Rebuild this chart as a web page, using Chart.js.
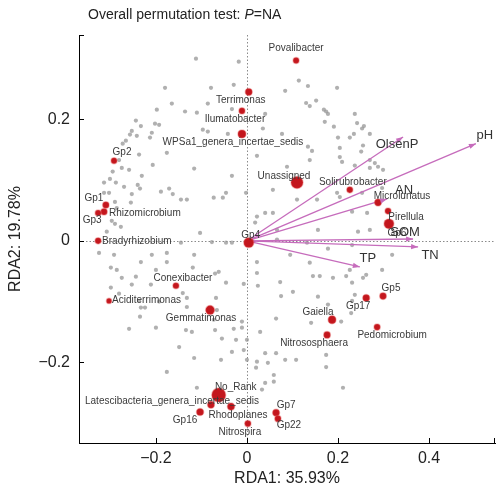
<!DOCTYPE html>
<html>
<head>
<meta charset="utf-8">
<script src="https://cdn.jsdelivr.net/npm/chart.js@4.4.1/dist/chart.umd.min.js"></script>
<style>
  html, body { margin: 0; padding: 0; background: #fff; }
  #wrap { width: 504px; height: 488px; }
</style>
</head>
<body>
<div id="wrap"><canvas id="rda"></canvas></div>
<script>
// OTU site scores on RDA1 / RDA2
const otuScores = [
    [-0.112, 0.300], [-0.018, 0.295], [-0.180, 0.252], [-0.079, 0.252], [-0.029, 0.257],
    [-0.165, 0.226], [-0.086, 0.226], [-0.198, 0.216], [-0.136, 0.213], [-0.110, 0.211],
    [-0.033, 0.217], [-0.244, 0.198], [-0.233, 0.189], [-0.202, 0.193], [-0.193, 0.191],
    [-0.253, 0.181], [-0.257, 0.175], [-0.242, 0.173], [-0.209, 0.178], [-0.213, 0.170],
    [-0.097, 0.183], [-0.086, 0.180], [-0.042, 0.176], [-0.266, 0.165], [-0.273, 0.160],
    [-0.176, 0.145], [-0.237, 0.142], [-0.275, 0.120], [-0.259, 0.117], [-0.207, 0.125],
    [-0.231, 0.107], [-0.116, 0.119], [-0.033, 0.107], [-0.314, 0.096], [-0.301, 0.102],
    [-0.288, 0.096], [-0.270, 0.089], [-0.240, 0.092], [-0.235, 0.086], [-0.314, 0.079],
    [-0.303, 0.079], [-0.253, 0.077], [-0.189, 0.081], [-0.171, 0.086], [-0.163, 0.077],
    [-0.145, 0.068], [-0.132, 0.068], [-0.073, 0.071], [-0.046, 0.079], [-0.053, 0.071],
    [-0.290, 0.064], [-0.255, 0.063], [-0.286, 0.054], [-0.297, 0.033], [-0.290, 0.028],
    [-0.277, 0.023], [-0.308, 0.015], [-0.103, 0.013], [-0.002, 0.079], [-0.281, 0.133],
    [-0.295, 0.114],
    [-0.145, -0.003], [-0.046, -0.003], [-0.077, -0.002], [-0.033, -0.003], [-0.325, -0.020],
    [-0.292, -0.023], [-0.209, -0.023], [-0.176, -0.020], [-0.116, -0.023], [-0.176, -0.035],
    [-0.233, -0.035], [-0.299, -0.044], [-0.286, -0.048], [-0.062, -0.051], [-0.275, -0.061],
    [-0.200, -0.048], [-0.253, -0.072], [-0.244, -0.059], [-0.119, -0.044], [-0.070, -0.054],
    [-0.007, -0.071], [-0.211, -0.072], [-0.299, -0.077], [-0.281, -0.087], [-0.046, -0.069],
    [-0.141, -0.086], [-0.237, -0.099], [-0.193, -0.100], [-0.132, -0.094], [-0.068, -0.094],
    [-0.233, -0.110], [-0.224, -0.110], [-0.132, -0.109], [-0.066, -0.114], [-0.235, -0.125],
    [-0.259, -0.145], [-0.200, -0.143], [-0.134, -0.147], [-0.121, -0.150], [-0.070, -0.147],
    [-0.029, -0.145], [-0.055, -0.161], [-0.024, -0.163], [-0.073, -0.130], [-0.011, -0.133],
    [-0.011, -0.143], [-0.149, -0.175], [-0.007, -0.180], [-0.033, -0.183], [-0.116, -0.193],
    [-0.057, -0.196], [-0.176, -0.216], [-0.110, -0.242], [0.000, -0.196],
    [0.022, 0.140], [0.114, 0.264], [0.134, 0.255], [0.084, 0.247], [0.198, 0.252],
    [0.130, 0.227], [0.138, 0.222], [0.152, 0.231], [0.169, 0.216], [0.174, 0.213],
    [0.178, 0.209], [0.237, 0.209], [0.171, 0.196], [0.191, 0.188], [0.242, 0.194],
    [0.257, 0.189], [0.253, 0.185], [0.270, 0.176], [0.235, 0.176], [0.200, 0.170],
    [0.226, 0.170], [0.134, 0.155], [0.204, 0.153], [0.077, 0.176], [0.040, 0.209],
    [0.035, 0.185], [0.143, 0.148], [0.270, 0.133], [0.281, 0.128], [0.288, 0.122],
    [0.270, 0.120], [0.204, 0.138], [0.255, 0.157], [0.251, 0.147], [0.209, 0.130],
    [0.237, 0.124], [0.299, 0.117], [0.088, 0.122], [0.138, 0.133], [0.057, 0.084],
    [0.110, 0.068], [0.154, 0.068], [0.198, 0.079], [0.253, 0.079], [0.297, 0.087],
    [0.022, 0.040], [0.040, 0.046], [0.018, 0.030], [0.156, 0.018], [0.244, 0.015],
    [0.270, 0.018], [0.204, 0.072], [0.231, 0.048], [0.264, 0.046], [0.057, 0.046],
    [0.066, 0.018],
    [0.066, 0.002], [0.132, -0.003], [0.231, -0.007], [0.178, -0.013], [0.095, -0.023],
    [0.022, -0.035], [0.138, -0.036], [0.226, -0.048], [0.297, -0.048], [0.319, -0.023],
    [0.022, -0.053], [0.145, -0.058], [0.160, -0.058], [0.189, -0.061], [0.255, -0.061],
    [0.024, -0.074], [0.073, -0.068], [0.101, -0.084], [0.156, -0.092], [0.231, -0.099],
    [0.178, -0.105], [0.075, -0.091], [0.218, -0.058], [0.231, -0.069], [0.262, -0.056],
    [0.237, -0.089], [0.141, -0.135], [0.207, -0.133], [0.174, -0.188], [0.174, -0.208],
    [0.211, -0.242], [0.064, -0.128], [0.229, -0.119], [0.029, -0.150], [0.040, -0.185],
    [0.022, -0.199], [0.046, -0.201], [0.084, -0.196], [0.059, -0.221], [0.059, -0.232],
    [0.033, -0.245], [0.000, -0.163], [0.040, -0.234], [0.020, -0.209], [0.064, -0.185],
    [0.108, -0.196],
];

// Named genera (red), with relative abundance driving dot size
const genusNames = [
    'Povalibacter', 'Terrimonas', 'Ilumatobacter', 'WPSa1_genera_incertae_sedis', 'Gp2',
    'Gp1', 'Rhizomicrobium', 'Gp3', 'Bradyrhizobium', 'Gp4',
    'Conexibacter', 'Aciditerrimonas', 'Gemmatimonas', 'Unassigned', 'Solirubrobacter',
    'Microlunatus', 'Pirellula', 'Gp6', 'Gp5', 'Gp17',
    'Gaiella', 'Pedomicrobium', 'Nitrososphaera', 'No_Rank', 'Latescibacteria_genera_incertae_sedis',
    'Rhodoplanes', 'Gp16', 'Nitrospira', 'Gp7', 'Gp22',
];
const genusX = [
    0.108, 0.004, -0.011, -0.011, -0.292,
    -0.310, -0.314, -0.327, -0.327, 0.004,
    -0.156, -0.303, -0.081, 0.110, 0.226,
    0.288, 0.310, 0.312, 0.299, 0.262,
    0.187, 0.286, 0.176, -0.062, -0.079,
    -0.035, -0.103, 0.002, 0.064, 0.068,
];
const genusY = [
    0.297, 0.245, 0.214, 0.176, 0.132,
    0.059, 0.048, 0.046, 0.000, -0.003,
    -0.074, -0.099, -0.114, 0.096, 0.084,
    0.063, 0.049, 0.028, -0.091, -0.094,
    -0.130, -0.142, -0.155, -0.254, -0.270,
    -0.273, -0.282, -0.301, -0.283, -0.293,
];
const genusAbund = [
    0.45, 0.8, 0.5, 1.3, 0.45,
    0.6, 0.6, 0.45, 0.5, 2.5,
    0.5, 0.25, 1.8, 4.2, 0.5,
    0.8, 0.5, 2.4, 0.7, 0.8,
    1.2, 0.55, 0.7, 6.2, 0.8,
    0.9, 0.9, 0.55, 0.8, 0.55,
];

// Soil property vectors
const envNames = ['pH', 'OlsenP', 'AN', 'SOM', 'TN', 'TP'];
const envX = [0.503, 0.343, 0.308, 0.365, 0.376, 0.248];
const envY = [0.160, 0.171, 0.069, 0.003, -0.010, -0.043];

const xTicks = [-0.2, 0, 0.2, 0.4];
const yTicks = [-0.2, 0, 0.2];

// where each text sits relative to its mark, in px: [dx, dy, align]
const genusLabelPos = {
    'Povalibacter': [0, -12], 'Terrimonas': [-8, 8], 'Ilumatobacter': [-7, 8],
    'WPSa1_genera_incertae_sedis': [-9, 8], 'Gp2': [8, -8], 'Gp1': [-12, -7],
    'Rhizomicrobium': [5, 2, 'left'], 'Gp3': [-6, 7], 'Bradyrhizobium': [4, 0, 'left'],
    'Gp4': [2, -7], 'Conexibacter': [7, -8], 'Aciditerrimonas': [3, -1, 'left'],
    'Gemmatimonas': [-9, 8], 'Unassigned': [-13, -6], 'Solirubrobacter': [3, -8],
    'Microlunatus': [24, -6], 'Pirellula': [18, 6], 'Gp6': [8, 9], 'Gp5': [8, -8],
    'Gp17': [-8, 8], 'Gaiella': [-14, -8], 'Pedomicrobium': [15, 8],
    'Nitrososphaera': [-13, 8], 'No_Rank': [17, -8],
    'Latescibacteria_genera_incertae_sedis': [-39, -4], 'Rhodoplanes': [7, 9],
    'Gp16': [-15, 8], 'Nitrospira': [-8, 9], 'Gp7': [10, -7], 'Gp22': [11, 7],
};
const envLabelPos = {
    'pH': [9, -8], 'OlsenP': [-6, 7], 'AN': [17, -9], 'SOM': [-8, -7], 'TN': [12, 9], 'TP': [8, -9],
};

const FONT = '"Liberation Sans", Arial, Helvetica, sans-serif';
const arrowColor = '#c66cbc';
const minus = v => (v < 0 ? '\u2212' : '') + Math.abs(v);

const rdaDecor = {
    id: 'rdaDecor',
    beforeDatasetsDraw(chart) {
        const { ctx, chartArea: a, scales: { x, y } } = chart;
        const x0 = Math.round(x.getPixelForValue(0)) + 0.5;
        const y0 = Math.round(y.getPixelForValue(0)) + 0.5;
        ctx.save();
        ctx.strokeStyle = '#8a8a8a';
        ctx.lineWidth = 1;
        ctx.setLineDash([1.5, 2]);
        ctx.beginPath();
        ctx.moveTo(x0, a.top); ctx.lineTo(x0, a.bottom);
        ctx.moveTo(a.left, y0); ctx.lineTo(a.right, y0);
        ctx.stroke();
        ctx.restore();
    },
    afterDatasetsDraw(chart) {
        const { ctx } = chart;
        ctx.save();
        chart.data.datasets.forEach((ds, i) => {
            const meta = chart.getDatasetMeta(i);
            if (ds.kind === 'env') {
                const p0 = meta.data[0], p1 = meta.data[1];
                const ang = Math.atan2(p1.y - p0.y, p1.x - p0.x);
                ctx.fillStyle = arrowColor;
                ctx.beginPath();
                ctx.moveTo(p1.x, p1.y);
                ctx.lineTo(p1.x - 7 * Math.cos(ang) + 2.6 * Math.sin(ang), p1.y - 7 * Math.sin(ang) - 2.6 * Math.cos(ang));
                ctx.lineTo(p1.x - 7 * Math.cos(ang) - 2.6 * Math.sin(ang), p1.y - 7 * Math.sin(ang) + 2.6 * Math.cos(ang));
                ctx.closePath();
                ctx.fill();
                const off = envLabelPos[ds.label] || [0, 0];
                ctx.font = '13px ' + FONT;
                ctx.fillStyle = '#333';
                ctx.textAlign = 'center';
                ctx.textBaseline = 'middle';
                ctx.fillText(ds.label, p1.x + off[0], p1.y + off[1]);
            } else if (ds.kind === 'genus') {
                ctx.font = '10px ' + FONT;
                ctx.fillStyle = '#3a3a3a';
                ctx.textBaseline = 'middle';
                meta.data.forEach((pt, j) => {
                    const name = genusNames[j];
                    const off = genusLabelPos[name] || [0, -8];
                    ctx.textAlign = off[2] || 'center';
                    ctx.fillText(name, pt.x + off[0], pt.y + off[1]);
                });
            }
        });
        ctx.restore();
    },
    afterDraw(chart) {
        const { ctx, chartArea: a, scales: { x, y } } = chart;
        ctx.save();
        // inward tick marks plus end caps on both axes
        ctx.strokeStyle = '#000';
        ctx.lineWidth = 1;
        ctx.beginPath();
        xTicks.forEach(v => {
            const px = Math.round(x.getPixelForValue(v)) + 0.5;
            ctx.moveTo(px, a.bottom); ctx.lineTo(px, a.bottom - 5);
        });
        ctx.moveTo(a.right - 0.5, a.bottom); ctx.lineTo(a.right - 0.5, a.bottom - 5);
        yTicks.forEach(v => {
            const py = Math.round(y.getPixelForValue(v)) + 0.5;
            ctx.moveTo(a.left, py); ctx.lineTo(a.left + 5, py);
        });
        ctx.moveTo(a.left, a.top + 0.5); ctx.lineTo(a.left + 5, a.top + 0.5);
        ctx.stroke();

        // title with italic P
        ctx.fillStyle = '#222';
        ctx.textBaseline = 'middle';
        ctx.textAlign = 'left';
        let tx = 88;
        const ty = 15;
        ctx.font = '14px ' + FONT;
        const head = 'Overall permutation test: ';
        ctx.fillText(head, tx, ty);
        tx += ctx.measureText(head).width;
        ctx.font = 'italic 14px ' + FONT;
        ctx.fillText('P', tx, ty);
        tx += ctx.measureText('P').width;
        ctx.font = '14px ' + FONT;
        ctx.fillText('=NA', tx, ty);
        ctx.restore();
    },
};

new Chart(document.getElementById('rda'), {
    type: 'scatter',
    data: {
        datasets: [
            {
                label: 'genera',
                kind: 'genus',
                data: genusNames.map((n, i) => ({ x: genusX[i], y: genusY[i] })),
                pointRadius: genusAbund.map(a => 1.5 + 2.2 * Math.sqrt(a)),
                backgroundColor: '#c3161d',
                borderColor: 'rgba(225,80,80,0.35)',
                borderWidth: 1.5,
                order: 1,
            },
            ...envNames.map((n, i) => ({
                label: n,
                kind: 'env',
                data: [{ x: 0, y: 0 }, { x: envX[i], y: envY[i] }],
                showLine: true,
                borderColor: arrowColor,
                borderWidth: 1.3,
                pointRadius: 0,
                order: 2,
            })),
            {
                label: 'OTUs',
                kind: 'otu',
                data: otuScores.map(([x, y]) => ({ x, y })),
                pointRadius: 2.1,
                backgroundColor: 'rgba(150,150,150,0.75)',
                borderWidth: 0,
                order: 3,
            },
        ],
    },
    options: {
        responsive: true,
        maintainAspectRatio: false,
        animation: false,
        events: [],
        layout: { padding: { left: 0, right: 9, top: 35, bottom: 0 } },
        plugins: { legend: { display: false }, tooltip: { enabled: false } },
        scales: {
            x: {
                min: -0.369, max: 0.545,
                afterBuildTicks: s => { s.ticks = xTicks.map(v => ({ value: v })); },
                afterFit: s => { s.height = 45; },
                grid: { display: false, drawTicks: false },
                border: { display: true, color: '#000', width: 1 },
                ticks: { color: '#222', padding: 6, font: { size: 16, family: FONT }, callback: minus },
                title: { display: true, text: 'RDA1: 35.93%', color: '#222',
                         font: { size: 16, family: FONT }, padding: { top: 0, bottom: 0 } },
            },
            y: {
                min: -0.333, max: 0.339,
                afterBuildTicks: s => { s.ticks = yTicks.map(v => ({ value: v })); },
                afterFit: s => { s.width = 79; },
                grid: { display: false, drawTicks: false },
                border: { display: true, color: '#000', width: 1 },
                ticks: { color: '#222', padding: 9, font: { size: 16, family: FONT }, callback: minus },
                title: { display: true, text: 'RDA2: 19.78%', color: '#222',
                         font: { size: 16, family: FONT }, padding: { top: 6, bottom: 0 } },
            },
        },
    },
    plugins: [rdaDecor],
});
</script>
</body>
</html>
